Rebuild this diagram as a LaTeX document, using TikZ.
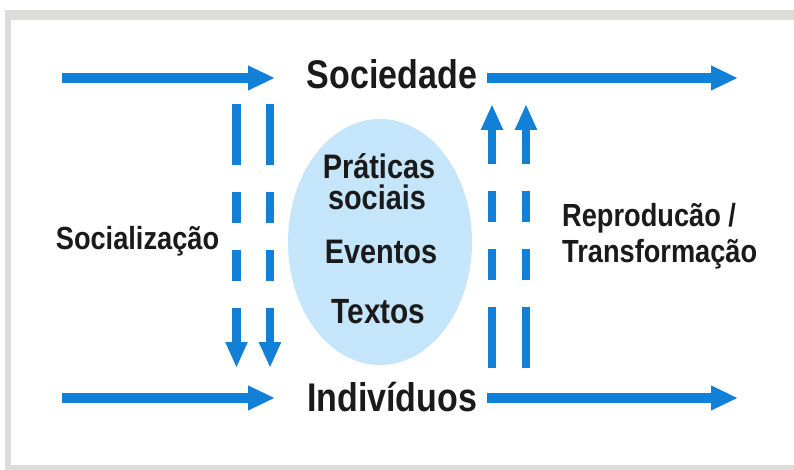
\documentclass[tikz,border=0pt]{standalone}
\usepackage{fontspec}
\newfontfamily\lab[FakeStretch=0.85]{Liberation Sans}
\usetikzlibrary{arrows.meta,shapes.geometric}
\definecolor{arrblue}{RGB}{19,128,216}
\definecolor{ellblue}{RGB}{196,229,250}
\definecolor{framegray}{RGB}{220,220,218}
\definecolor{ink}{RGB}{26,26,26}
\begin{document}
\begin{tikzpicture}[x=1pt,y=-1pt,
  lbl/.style={font=\lab\bfseries\fontsize{#1}{#1}\selectfont, text=ink, inner sep=0pt},
  harrow/.style={arrblue, line width=10pt, -{Triangle[width=23pt,length=27pt]}},
  varrow/.style={arrblue, line width=8.5pt,
    dash pattern=on 61pt off 27pt on 31pt off 27pt on 31pt off 27pt on 200pt,
    -{Triangle[width=20.5pt,length=26pt]}}]
\useasboundingbox (0,0) rectangle (794,470);
\fill[framegray] (5,10) rectangle (794,470);
\fill[white] (11,20) rectangle (794,465);

\node[ellipse, fill=ellblue, minimum width=184pt, minimum height=246pt, inner sep=0pt] (ell) at (380,242) {};

\node[lbl=40, anchor=base] (soc) at (392,89) {Sociedade};
\node[lbl=40, anchor=base] (ind) at (392,411) {Indivíduos};
\node[lbl=34, anchor=base] (prat) at (379,179) {Práticas};
\node[lbl=34, anchor=base] (socs) at (377,210) {sociais};
\node[lbl=34, anchor=base] (ev) at (381,263) {Eventos};
\node[lbl=35, anchor=base] (tx) at (378.5,323) {Textos};
\node[lbl=32, anchor=base] (socz) at (137.5,249) {Socialização};
\node[lbl=32, anchor=base west] (rep) at (562,226) {Reproducão /};
\node[lbl=32, anchor=base west] (trans) at (562,262) {Transformação};

\coordinate (tl0) at (62,78);
\coordinate (tl1) at (275,78);
\coordinate (tr0) at (487,78);
\coordinate (tr1) at (738,78);
\coordinate (bl0) at (62,398);
\coordinate (bl1) at (275,398);
\coordinate (br0) at (487,398);
\coordinate (br1) at (738,398);
\coordinate (d1a) at (236.5,104);
\coordinate (d1b) at (236.5,368);
\coordinate (d2a) at (270,104);
\coordinate (d2b) at (270,368);
\coordinate (u1a) at (492,368);
\coordinate (u1b) at (492,104);
\coordinate (u2a) at (526,368);
\coordinate (u2b) at (526,104);

\draw[harrow] (tl0) -- (tl1);
\draw[harrow] (tr0) -- (tr1);
\draw[harrow] (bl0) -- (bl1);
\draw[harrow] (br0) -- (br1);
\draw[varrow] (d1a) -- (d1b);
\draw[varrow] (d2a) -- (d2b);
\draw[varrow] (u1a) -- (u1b);
\draw[varrow] (u2a) -- (u2b);
\end{tikzpicture}
\end{document}
